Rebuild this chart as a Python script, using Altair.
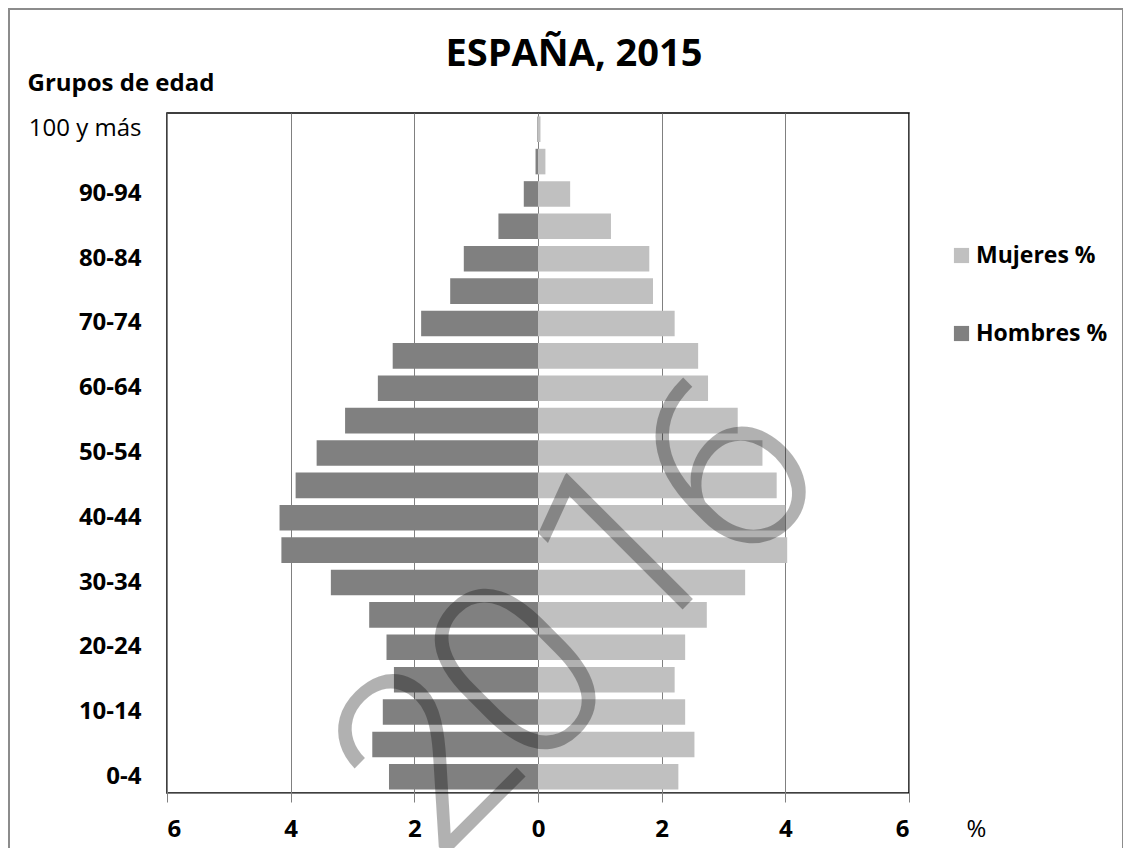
import altair as alt
import pandas as pd

ages = ["0-4", "5-9", "10-14", "15-19", "20-24", "25-29", "30-34", "35-39",
        "40-44", "45-49", "50-54", "55-59", "60-64", "65-69", "70-74", "75-79",
        "80-84", "85-89", "90-94", "95-99", "100 y más"]
hombres = [2.41, 2.68, 2.51, 2.33, 2.45, 2.73, 3.35, 4.15, 4.18, 3.92, 3.58,
           3.12, 2.59, 2.35, 1.89, 1.42, 1.20, 0.64, 0.23, 0.04, 0.01]
mujeres = [2.27, 2.53, 2.38, 2.21, 2.38, 2.73, 3.35, 4.03, 4.00, 3.86, 3.63,
           3.23, 2.75, 2.59, 2.21, 1.86, 1.80, 1.18, 0.52, 0.12, 0.04]
shown_age_labels = ["0-4", "10-14", "20-24", "30-34", "40-44", "50-54",
                    "60-64", "70-74", "80-84", "90-94", "100 y más"]
x_ticks = [-6, -4, -2, 0, 2, 4, 6]
series = ["Mujeres %", "Hombres %"]
colors = ["#c0c0c0", "#808080"]

rows = []
for a, h, m in zip(ages, hombres, mujeres):
    rows.append({"edad": a, "sexo": "Mujeres %", "valor": m})
    rows.append({"edad": a, "sexo": "Hombres %", "valor": -h})
df = pd.DataFrame(rows)

FONT = "Open Sans"
W, H = 742, 680
PAD = {"left": 159, "top": 105, "right": 1115 - 159 - W, "bottom": 840 - 105 - H}

one = pd.DataFrame({"k": [0]})

bars = alt.Chart(df).mark_bar().encode(
    y=alt.Y("edad:N", sort=list(reversed(ages)),
            scale=alt.Scale(paddingInner=0.21, paddingOuter=0.105),
            axis=alt.Axis(values=shown_age_labels, domain=False, ticks=False,
                          labelFont=FONT, labelFontSize=24, labelColor="#000",
                          labelFontWeight={"condition": {"test": "datum.value === '100 y más'", "value": "normal"}, "value": "bold"},
                          labelPadding=26, labelAlign="right",
                          title="Grupos de edad", titleAngle=0, titleFont=FONT,
                          titleFontSize=24, titleFontWeight="bold", titleColor="#000",
                          titleX=-140, titleY=-23, titleAlign="left",
                          titleBaseline="alphabetic")),
    x=alt.X("valor:Q", stack=None,
            scale=alt.Scale(domain=[-6, 6], nice=False),
            axis=alt.Axis(values=x_ticks, labelExpr="abs(datum.value)",
                          grid=True, gridColor="#808080", gridWidth=1,
                          domainColor="#808080", tickColor="#808080", tickSize=9,
                          labelFont=FONT, labelFontSize=24, labelFontWeight="bold",
                          labelColor="#000", labelPadding=15,
                          title="%", titleFont=FONT, titleFontSize=24,
                          titleFontWeight="normal", titleColor="#000",
                          titleX=809, titleY=36, titleBaseline="middle",
                          titleAlign="center")),
    color=alt.Color("sexo:N", scale=alt.Scale(domain=series, range=colors),
                    legend=alt.Legend(orient="none", legendX=783, legendY=131,
                                      title=None, symbolType="square",
                                      symbolSize=230, symbolStrokeWidth=0,
                                      labelFont=FONT, labelFontSize=23,
                                      labelFontWeight="bold", labelColor="#000",
                                      labelOffset=3, rowPadding=54, padding=0,
                                      labelLimit=300)),
)

title = alt.Chart(one).mark_text(text="ESPAÑA, 2015", font=FONT, fontSize=38,
                                 fontWeight="bold", color="#000", align="center",
                                 baseline="middle").encode(
    x=alt.value(407), y=alt.value(-58))

border = alt.Chart(one).mark_rect(fill="transparent", stroke="#8c8c8c",
                                  strokeWidth=2).encode(
    x=alt.value(-158), x2=alt.value(956), y=alt.value(-104), y2=alt.value(780))

wm_layers = []
for d, px, py in [("2", 264, 652), ("0", 358, 566), ("1", 462, 444), ("6", 566, 362)]:
    wm_layers.append(
        alt.Chart(one).mark_text(text=d, font="Roboto", fontWeight=300,
                                 fontSize=250, angle=315, color="#000",
                                 opacity=0.3, align="center",
                                 baseline="middle").encode(
            x=alt.value(px), y=alt.value(py)))

chart = alt.layer(bars, title, border, *wm_layers).properties(
    width=W, height=H, padding=PAD,
    autosize=alt.AutoSizeParams(type="none"),
    background="white",
).configure_view(stroke="#000", strokeWidth=1.5)

chart.save("out.html", embed_options={"renderer": "svg", "actions": False})
